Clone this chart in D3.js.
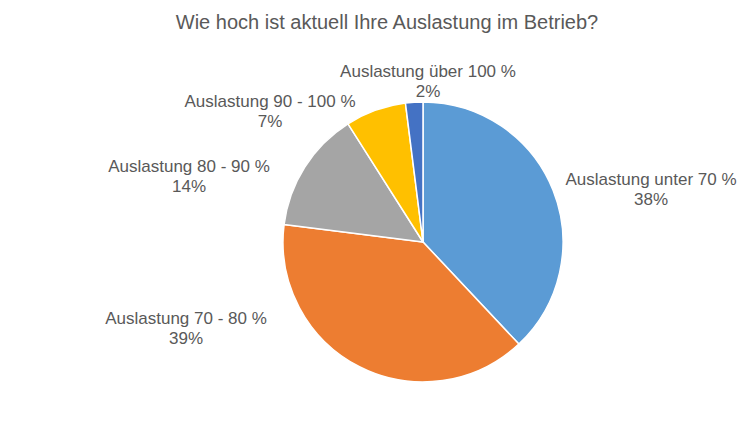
<!DOCTYPE html>
<html><head><meta charset="utf-8">
<script src="https://cdn.jsdelivr.net/npm/d3@7/dist/d3.min.js"></script>
<style>html,body{margin:0;padding:0;background:#fff;}svg{display:block;}</style>
</head><body>
<svg id="chart" width="750" height="422"></svg>
<script>
const title = "Wie hoch ist aktuell Ihre Auslastung im Betrieb?";
const categories = ["Auslastung unter 70 %", "Auslastung 70 - 80 %", "Auslastung 80 - 90 %", "Auslastung 90 - 100 %", "Auslastung über 100 %"];
const values = [38, 39, 14, 7, 2];
const colors = ["#5B9BD5", "#ED7D31", "#A5A5A5", "#FFC000", "#4472C4"];

// layout (label centres, first line baseline)
const labelLayout = [[651, 185], [186, 324], [189, 172], [270, 107], [428, 77]];

const svg = d3.select("#chart");
const cx = 423, cy = 242, r = 140;

svg.append("text").attr("x", 387).attr("y", 29).attr("text-anchor", "middle")
  .attr("font-family", "Liberation Sans, Arial, sans-serif").attr("font-size", 20)
  .attr("fill", "#595959").text(title);

const pie = d3.pie().sort(null).value(d => d)(values);
const arc = d3.arc().innerRadius(0).outerRadius(r);
const g = svg.append("g").attr("transform", `translate(${cx},${cy})`);
g.selectAll("path").data(pie).join("path")
  .attr("d", arc).attr("fill", (d, i) => colors[i])
  .attr("stroke", "#fff").attr("stroke-width", 1.5).attr("stroke-linejoin", "round");

const total = d3.sum(values);
const lbl = svg.append("g").attr("font-family", "Liberation Sans, Arial, sans-serif")
  .attr("font-size", 17).attr("fill", "#595959").attr("text-anchor", "middle");
categories.forEach((c, i) => {
  const [x, y] = labelLayout[i];
  const t = lbl.append("text").attr("x", x).attr("y", y);
  t.append("tspan").attr("x", x).text(c);
  t.append("tspan").attr("x", x).attr("dy", 20).text(Math.round(values[i] / total * 100) + "%");
});
</script>
</body></html>
